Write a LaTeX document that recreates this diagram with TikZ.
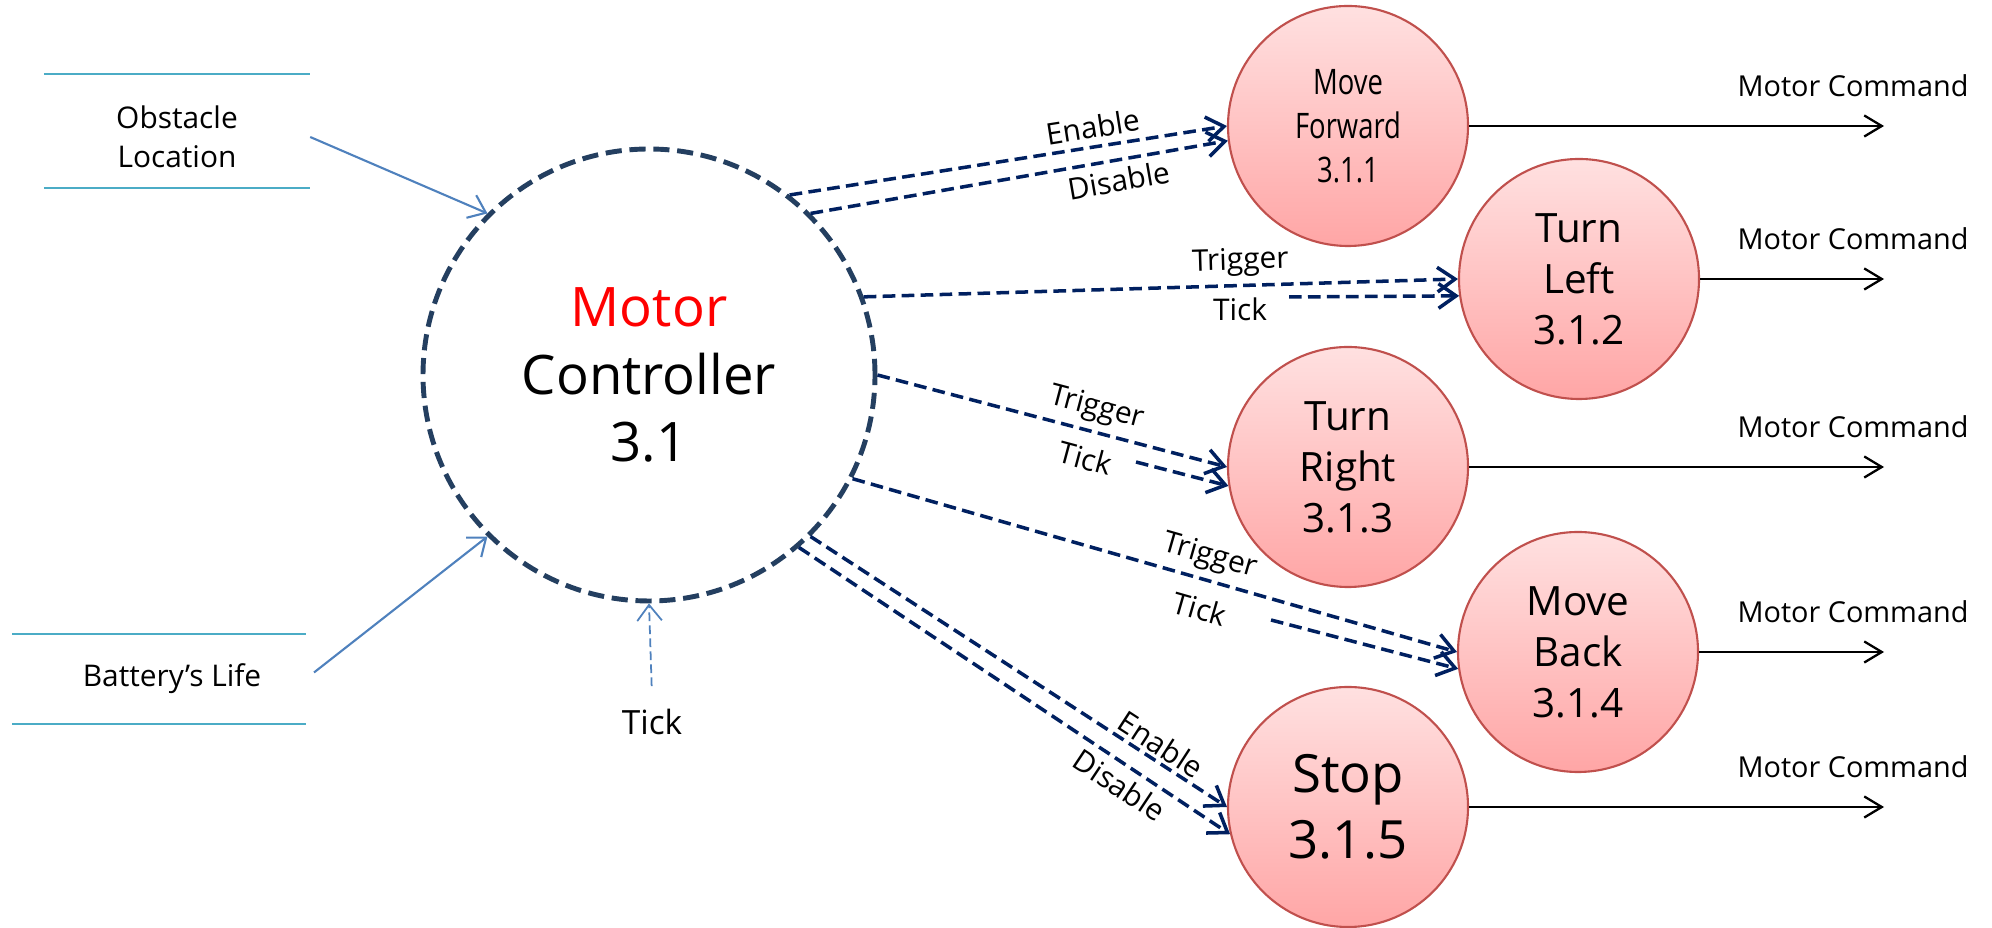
\documentclass[tikz,border=0pt]{standalone}
\usepackage{fontspec}
\setmainfont{Open Sans}
\newfontfamily\narrowfont[FakeStretch=0.78]{Open Sans}
\usetikzlibrary{arrows.meta}

\definecolor{flowblue}{HTML}{002060}
\definecolor{ringblue}{HTML}{243F60}
\definecolor{storeteal}{HTML}{4BACC6}
\definecolor{inblue}{HTML}{4F81BD}
\definecolor{taskred}{HTML}{C0504D}

\begin{document}
\begin{tikzpicture}[x=1cm, y=-1cm,
    task/.style={circle, draw=taskred, line width=0.6pt, top color=red!12, bottom color=red!35,
        minimum size=2.4cm, inner sep=0pt, align=center, font=\fontsize{11.5}{14.5}\selectfont},
    flow/.style={draw=flowblue, line width=1pt, dash pattern=on 3.6pt off 1.8pt,
        -{Straight Barb[length=5pt,width=7pt]}},
    inflow/.style={draw=inblue, line width=0.6pt, -{Straight Barb[length=4.5pt,width=7pt]}},
    cmd/.style={draw=black, line width=0.65pt, -{Straight Barb[length=5pt,width=6pt]}},
    lbl/.style={font=\fontsize{8.5}{10}\selectfont, inner sep=2pt},
    store/.style={minimum height=1.13cm, align=center, font=\fontsize{8.5}{11}\selectfont},
    storeline/.style={draw=storeteal, line width=0.6pt}]

\useasboundingbox (0,0) rectangle (19.92,9.28);

% Controller process
\node[circle, draw=ringblue, line width=1.4pt, dash pattern=on 4.6pt off 2.2pt,
      minimum size=4.52cm, align=center, font=\fontsize{15.5}{19.3}\selectfont]
      (mc) at (6.49,3.75) {\textcolor{red}{Motor}\\Controller\\3.1};

% Sub processes
\node[task, font=\narrowfont\fontsize{10}{12.5}\selectfont] (mf) at (13.48,1.26) {Move\\Forward\\3.1.1};
\node[task] (tl) at (15.79,2.79) {Turn\\Left\\3.1.2};
\node[task] (tr) at (13.48,4.67) {Turn\\Right\\3.1.3};
\node[task] (mb) at (15.78,6.52) {Move\\Back\\3.1.4};
\node[task, font=\fontsize{15}{18.8}\selectfont] (st) at (13.48,8.07) {Stop\\3.1.5};

% Data stores
\node[store, minimum width=2.65cm] (obs) at (1.77,1.37) {Obstacle\\Location};
\node[store, minimum width=2.92cm, minimum height=0.88cm] (bat) at (1.59,6.79) {\hspace*{0.26cm}Battery's Life};
\foreach \s/\d in {obs/0.06, bat/0} {
    \draw[storeline] ([yshift=\d cm]\s.north west) -- ([yshift=\d cm]\s.north east);
    \draw[storeline] ([yshift=\d cm]\s.south west) -- ([yshift=\d cm]\s.south east);
}

\draw[inflow] (obs.east) -- (mc.135);
\draw[inflow, shorten <=3pt] (bat.east) -- (mc.225);

\node[font=\fontsize{9.5}{11}\selectfont] (tick) at (6.52,7.22) {Tick};
\draw[inflow, line width=0.5pt, dash pattern=on 2.5pt off 1.2pt, shorten <=3pt] (tick.north) -- (mc.south);

% Control flows
\draw[flow] (mc.52) -- node[lbl, pos=0.70, above, sloped] {Enable} (mf.180);
\draw[flow] (mc.45) -- node[lbl, pos=0.73, below, sloped] {Disable} (mf.187);

\draw[flow] (mc.20) -- node[lbl, pos=0.635, above, sloped] {Trigger} (tl.180);
\coordinate (tl-tick) at (12.89,2.97);
\node[lbl] (tl-ticklbl) at (12.40,3.09) {Tick};
\draw[flow] (tl-tick) -- (tl.188);

\draw[flow] (mc.0) -- node[lbl, pos=0.61, above, sloped] {Trigger} (tr.180);
\coordinate (tr-tick) at (11.36,4.62);
\node[lbl, rotate=-15] (tr-ticklbl) at (10.85,4.58) {Tick};
\draw[flow] (tr-tick) -- (tr.189);

\draw[flow] (mc.333) -- node[lbl, pos=0.58, above, sloped] {Trigger} (mb.180);
\coordinate (mb-tick) at (12.71,6.20);
\node[lbl, rotate=-16] (mb-ticklbl) at (12.00,6.09) {Tick};
\draw[flow] (mb-tick) -- (mb.188);

\draw[flow] (mc.315) -- node[lbl, pos=0.82, above=-1pt, sloped] {Enable} (st.180);
\draw[flow] (mc.311) -- node[lbl, pos=0.77, below, sloped] {Disable} (st.193);

% Motor commands
\foreach \name/\y in {mf/1.26, tl/2.79, tr/4.67, mb/6.52, st/8.07} {
    \coordinate (\name-out) at (18.84,\y);
    \draw[cmd] (\name.east) -- (\name-out);
    \node[lbl, font=\fontsize{8.2}{10}\selectfont] (\name-cmd) at (18.53,\y-0.40) {Motor Command};
}

\end{tikzpicture}
\end{document}
